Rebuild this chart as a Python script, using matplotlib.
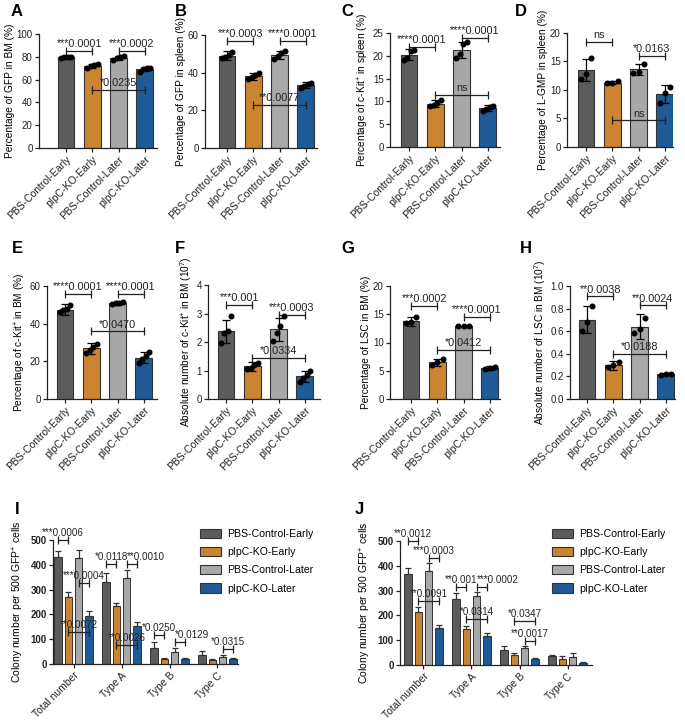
import matplotlib
matplotlib.use("Agg")
import matplotlib.pyplot as plt
from matplotlib.patches import Patch
import numpy as np

plt.rcParams['font.family'] = ['Liberation Sans', 'DejaVu Sans']
plt.rcParams['mathtext.default'] = 'regular'

W, H = 685, 722

groups = ['PBS-Control-Early', 'pIpC-KO-Early', 'PBS-Control-Later', 'pIpC-KO-Later']
colors = ['#5c5c5c', '#cc8430', '#a8a8a8', '#1f5b98']
edge = '#333333'

# ---- panels A-H: means, SD, dots, y axis, brackets ----
a_mean = [79.5, 72, 79, 69]
a_err = [0.6, 2, 2, 1.5]
a_dots = [[79, 79.5, 80, 79.5], [70, 72, 73, 74], [77, 79, 80, 81], [67, 69, 70, 70]]
a_sig = [(0, 1, 85, '***0.0001'), (2, 3, 85, '***0.0002'), (1, 3, 51, '*0.0235')]

b_mean = [49, 38, 49.5, 33.5]
b_err = [2.5, 2, 2, 1.5]
b_dots = [[48, 48.5, 49.5, 51], [36.5, 37.5, 39, 40], [47.5, 49, 50.5, 51.5], [32, 33, 34, 34.5]]
b_sig = [(0, 1, 57, '***0.0003'), (2, 3, 57, '****0.0001'), (1, 3, 23, '**0.0077')]

c_mean = [20.2, 9.5, 21.3, 8.5]
c_err = [1.2, 0.7, 1.8, 0.7]
c_dots = [[19, 19.5, 21, 21.3], [9, 9.3, 9.7, 10.2], [19.5, 20.5, 22.5, 23], [7.8, 8.3, 8.8, 9.0]]
c_sig = [(0, 1, 22, '****0.0001'), (2, 3, 24, '****0.0001'), (1, 3, 11.5, 'ns')]

d_mean = [13.5, 11.3, 13.6, 9.3]
d_err = [2, 0.3, 1, 1.6]
d_dots = [[12, 12.8, 15.7], [11.2, 11.3, 11.5], [13, 13.2, 14.5], [7.8, 9.5, 10.5]]
d_sig = [(0, 1, 18.5, 'ns'), (2, 3, 16, '*0.0163'), (1, 3, 4.7, 'ns')]

e_mean = [47.5, 27, 51, 22]
e_err = [3, 3, 1, 3]
e_dots = [[46, 47, 48, 50], [24.5, 26, 27.5, 29], [50.5, 51, 51, 51.5], [19, 21, 23, 25]]
e_sig = [(0, 1, 56, '****0.0001'), (2, 3, 56, '****0.0001'), (1, 3, 36, '*0.0470')]

f_mean = [2.37, 1.15, 2.45, 0.8]
f_err = [0.4, 0.15, 0.4, 0.2]
f_dots = [[1.98, 2.3, 2.4, 2.9], [1.05, 1.1, 1.2, 1.28], [2.05, 2.3, 2.55, 2.9], [0.6, 0.75, 0.85, 1.0]]
f_sig = [(0, 1, 3.3, '***0.001'), (2, 3, 2.95, '***0.0003'), (1, 3, 1.45, '*0.0334')]

g_mean = [13.8, 6.5, 12.9, 5.5]
g_err = [0.8, 0.6, 0.1, 0.3]
g_dots = [[13.5, 13.7, 14.5], [6.0, 6.5, 7.0], [12.85, 12.9, 12.95], [5.3, 5.5, 5.7]]
g_sig = [(0, 1, 16.5, '***0.0002'), (2, 3, 14.5, '****0.0001'), (1, 3, 8.7, '*0.0412')]

h_mean = [0.70, 0.30, 0.64, 0.22]
h_err = [0.12, 0.04, 0.11, 0.01]
h_dots = [[0.60, 0.68, 0.82], [0.28, 0.30, 0.33], [0.58, 0.62, 0.72], [0.215, 0.22, 0.225]]
h_sig = [(0, 1, 0.91, '**0.0038'), (2, 3, 0.83, '**0.0024'), (1, 3, 0.40, '*0.0188')]

ylabels = {
    'A': 'Percentage of GFP in BM (%)',
    'B': 'Percentage of GFP in spleen (%)',
    'C': 'Percentage of c-Kit$^{+}$ in spleen (%)',
    'D': 'Percentage of L-GMP in spleen (%)',
    'E': 'Percentage of c-Kit$^{+}$ in BM (%)',
    'F': 'Absolute number of c-Kit$^{+}$ in BM (10$^{7}$)',
    'G': 'Percentage of LSC in BM (%)',
    'H': 'Absolute number of LSC in BM (10$^{7}$)',
}
yticks = {
    'A': [0, 20, 40, 60, 80, 100],
    'B': [0, 20, 40, 60],
    'C': [0, 5, 10, 15, 20, 25],
    'D': [0, 5, 10, 15, 20],
    'E': [0, 20, 40, 60],
    'F': [0, 1, 2, 3, 4],
    'G': [0, 5, 10, 15, 20],
    'H': [0.0, 0.2, 0.4, 0.6, 0.8, 1.0],
}

# ---- panels I, J: colony assays ----
# (group, bar1, bar2, y, text, text alignment)
colony_cats = ['Total number', 'Type A', 'Type B', 'Type C']
i_mean = [[432, 330, 65, 38], [272, 233, 22, 16], [428, 345, 50, 30], [193, 153, 19, 19]]
i_err = [[22, 35, 22, 15], [18, 14, 4, 5], [32, 35, 15, 8], [20, 17, 4, 4]]
i_sig = [(0, 0, 1, 500, '***0.0006', 'center'), (0, 2, 3, 327, '***0.0004', 'center'),
         (0, 1, 3, 129, '**0.0072', 'center'), (1, 0, 1, 403, '*0.0118', 'center'),
         (1, 2, 3, 403, '**0.0010', 'left'), (1, 1, 3, 77, '**0.0026', 'center'),
         (2, 0, 1, 117, '*0.0250', 'center'), (2, 2, 3, 89, '*0.0129', 'left'),
         (3, 2, 3, 60, '*0.0315', 'center')]

j_mean = [[365, 268, 60, 35], [212, 147, 40, 25], [378, 278, 67, 33], [150, 117, 25, 10]]
j_err = [[25, 23, 17, 7], [22, 12, 10, 12], [32, 17, 10, 15], [12, 12, 4, 4]]
j_sig = [(0, 0, 1, 500, '**0.0012', 'center'), (0, 2, 3, 431, '***0.0003', 'center'),
         (0, 1, 3, 258, '**0.0091', 'center'), (1, 0, 1, 315, '**0.001', 'center'),
         (1, 2, 3, 315, '***0.0002', 'left'), (1, 1, 3, 185, '*0.0314', 'center'),
         (2, 1, 3, 177, '*0.0347', 'center'), (2, 2, 3, 97, '**0.0017', 'center')]

# layout in pixels: y-axis x, first bar x, right end, top, bottom
SP = 26.3
layout = {
    'A': (39, 66, 157, 34, 148), 'B': (205, 227, 317, 35, 148),
    'C': (390, 409, 500, 33, 147), 'D': (567, 586, 673, 33, 147),
    'E': (47, 65, 157, 286, 399), 'F': (208, 226, 320, 285, 399),
    'G': (390, 411, 500, 286, 399), 'H': (570, 587, 675, 286, 399),
}
letters = {'A': (11, 4), 'B': (175, 4), 'C': (341, 4), 'D': (515, 4),
           'E': (12, 241), 'F': (175, 241), 'G': (341, 241), 'H': (520, 241),
           'I': (15, 502), 'J': (355, 502)}

fig = plt.figure(figsize=(W / 100, H / 100), dpi=100)


def px_axes(left, right, top, bottom):
    return fig.add_axes([left / W, 1 - bottom / H, (right - left) / W, (bottom - top) / H])


def style(ax):
    for s in ['top', 'right']:
        ax.spines[s].set_visible(False)
    for s in ['left', 'bottom']:
        ax.spines[s].set_linewidth(0.9)
        ax.spines[s].set_color('#222222')
    ax.tick_params(direction='out', length=3, width=0.9, colors='#222222', labelsize=7, pad=1.5)


def bracket(ax, x1, x2, y, text, fs=7.8, ha='center'):
    ax.plot([x1, x2], [y, y], color='#222222', lw=0.9, marker='|', ms=5.5, mew=0.9, clip_on=False)
    tx = (x1 + x2) / 2 if ha == 'center' else x1
    ax.annotate(text, xy=(tx, y), xytext=(0, 1.2), textcoords='offset points',
                ha=ha, va='bottom', fontsize=fs, color='#222222', annotation_clip=False)


panels = {
    'A': (a_mean, a_err, a_dots, a_sig), 'B': (b_mean, b_err, b_dots, b_sig),
    'C': (c_mean, c_err, c_dots, c_sig), 'D': (d_mean, d_err, d_dots, d_sig),
    'E': (e_mean, e_err, e_dots, e_sig), 'F': (f_mean, f_err, f_dots, f_sig),
    'G': (g_mean, g_err, g_dots, g_sig), 'H': (h_mean, h_err, h_dots, h_sig),
}

for key, (mean, err, dots, sig) in panels.items():
    yx, b0, right, top, bottom = layout[key]
    ax = px_axes(yx, right, top, bottom)
    style(ax)
    x = np.arange(4)
    ax.bar(x, mean, width=0.64, color=colors, edgecolor=edge, linewidth=0.8, zorder=2)
    ax.errorbar(x, mean, yerr=err, fmt='none', ecolor='black', elinewidth=0.9,
                capsize=3, capthick=0.9, zorder=3)
    for i, d in enumerate(dots):
        off = np.linspace(-0.2, 0.2, len(d))
        ax.scatter(i + off, d, s=11, color='black', zorder=4, clip_on=False)
    for g1, g2, y, t in sig:
        bracket(ax, g1, g2, y, t)
    ax.set_xlim((yx - b0) / SP, (right - b0) / SP)
    ax.set_ylim(0, yticks[key][-1])
    ax.set_yticks(yticks[key])
    if key == 'H':
        ax.set_yticklabels([f'{v:.1f}' for v in yticks[key]])
    ax.set_xticks(x)
    ax.set_xticklabels(groups, rotation=45, ha='right', rotation_mode='anchor', fontsize=7.5)
    ax.set_ylabel(ylabels[key], fontsize=7.3, labelpad=1.5)

# colony panels
colony = {
    'I': (i_mean, i_err, i_sig, (53, 73.5, 238, 540, 664), (0.292, 0.268)),
    'J': (j_mean, j_err, j_sig, (400, 423.5, 592, 541, 665), (0.806, 0.268)),
}
GSP = 48.0
offsets = np.array([-1.5, -0.5, 0.5, 1.5]) * 0.215
for key, (mean, err, sig, (yx, g0, right, top, bottom), leg_pos) in colony.items():
    ax = px_axes(yx, right, top, bottom)
    style(ax)
    xg = np.arange(4)
    for k in range(4):
        m = np.array(mean[k])
        e = np.array(err[k])
        ax.bar(xg + offsets[k], m, width=0.15, color=colors[k], edgecolor=edge,
               linewidth=0.7, zorder=2, label=groups[k])
        ax.errorbar(xg + offsets[k], m, yerr=[np.zeros(4), e], fmt='none', ecolor='#333333',
                    elinewidth=0.9, capsize=2.5, capthick=0.9, zorder=3)
    for g, b1, b2, y, t, al in sig:
        bracket(ax, g + offsets[b1], g + offsets[b2], y, t, fs=7.1, ha=al)
    ax.set_xlim((yx - g0) / GSP, (right - g0) / GSP)
    ax.set_ylim(0, 500)
    ax.set_yticks([0, 100, 200, 300, 400, 500])
    for lab in ax.get_yticklabels():
        lab.set_fontweight('bold')
    ax.set_xticks(xg)
    ax.set_xticklabels(colony_cats, rotation=45, ha='right', rotation_mode='anchor', fontsize=7.5)
    ax.set_ylabel('Colony number per 500 GFP$^{+}$ cells', fontsize=7.5, labelpad=3)
    handles = [Patch(facecolor=colors[k], edgecolor=edge, linewidth=0.8, label=groups[k])
               for k in range(4)]
    fig.legend(handles=handles, loc='upper left', bbox_to_anchor=leg_pos,
               bbox_transform=fig.transFigure, frameon=False, fontsize=7.6,
               handlelength=2.0, handleheight=1.0, labelspacing=0.75, handletextpad=0.6,
               borderaxespad=0, borderpad=0)

for lab, (lx, ly) in letters.items():
    fig.text(lx / W, 1 - ly / H, lab, fontsize=12, fontweight='bold', va='top', ha='left')

fig.savefig('out.png', dpi=100)
